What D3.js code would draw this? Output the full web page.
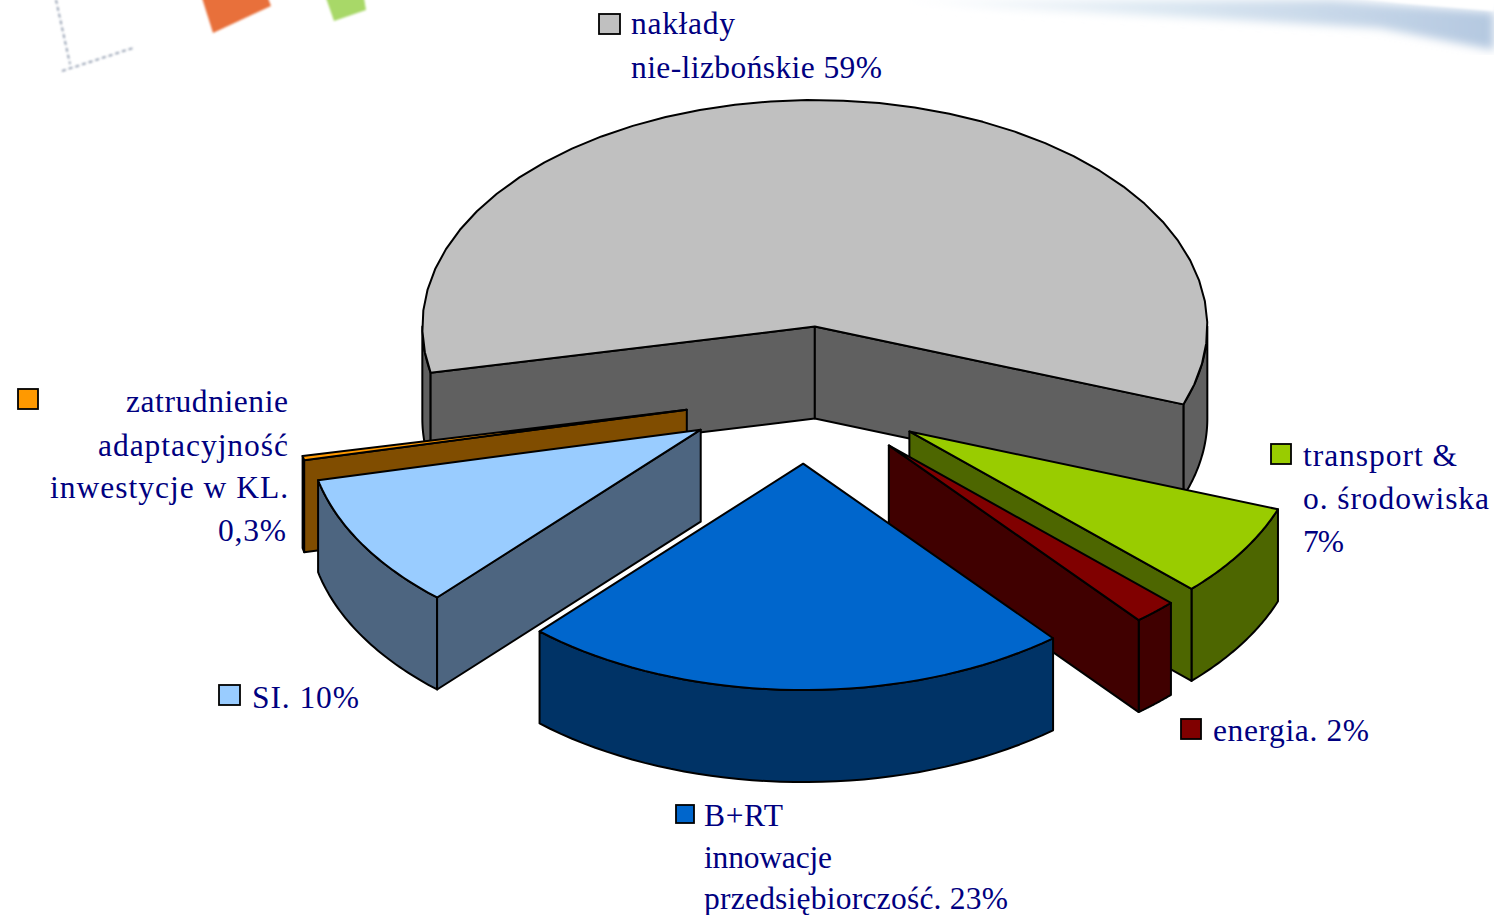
<!DOCTYPE html>
<html><head><meta charset="utf-8">
<script src="https://cdnjs.cloudflare.com/ajax/libs/d3/7.8.5/d3.min.js"></script>
<style>html,body{margin:0;padding:0;background:#fff;overflow:hidden}svg{display:block}
text{font-family:"Liberation Serif","Times New Roman",serif;fill:#000080;font-size:31.5px}</style>
</head><body>
<svg id="c" width="1494" height="915"></svg>
<script>
// Data (slice shares are the drawn angles; labels are as printed)
const categories = ["nakłady nie-lizbońskie","transport & o. środowiska","energia","B+RT innowacje przedsiębiorczość","SI","zatrudnienie adaptacyjność inwestycje w KL"];
const values = [58.85, 6.65, 1.78, 22.7, 9.7, 0.3];
const topColors = ["#c0c0c0","#99cc00","#800000","#0066cc","#99ccff","#ff9900"];
const wallColors = ["#606060","#4d6600","#400000","#003366","#4d6580","#804d00"];
const drawOrder = [0,5,4,1,2,3];
const labelLines = [
  ["nakłady","nie-lizbońskie 59%"],
  ["transport &","o. środowiska","7%"],
  ["energia. 2%"],
  ["B+RT","innowacje","przedsiębiorczość. 23%"],
  ["SI. 10%"],
  ["zatrudnienie","adaptacyjność","inwestycje w KL.","0,3%"]
];

const svg = d3.select("#c");
const defs = svg.append("defs");
defs.append("filter").attr("id","soft").append("feGaussianBlur").attr("stdDeviation",1);
defs.append("filter").attr("id","softer").append("feGaussianBlur").attr("stdDeviation",5);
const g1 = defs.append("linearGradient").attr("id","band").attr("x1",0).attr("x2",1).attr("y1",0).attr("y2",0);
g1.append("stop").attr("offset",0).attr("stop-color","#ffffff");
g1.append("stop").attr("offset",0.45).attr("stop-color","#dce8f2");
g1.append("stop").attr("offset",1).attr("stop-color","#b4c8e0");

// Background decoration of the slide
const bg = svg.append("g");
bg.append("path").attr("d","M880,0 L1330,0 L1494,12 L1494,50 L1380,28 L1200,18 L1000,8Z").attr("fill","url(#band)").attr("filter","url(#softer)");
bg.append("path").attr("d","M1320,-6 L1400,3 L1494,11 L1494,-6Z").attr("fill","#fff").attr("filter","url(#soft)");
bg.append("path").attr("d","M202,-2 L268,-2 L271,6 L213,33Z").attr("fill","#e8703a").attr("filter","url(#soft)");
bg.append("path").attr("d","M326,-2 L364,-2 L366,10 L334,21Z").attr("fill","#a8d868").attr("filter","url(#soft)");
bg.append("path").attr("d","M56,0 L70,64 M62,71 L133,48").attr("fill","none").attr("stroke","#7f8ca2").attr("stroke-width",1.6).attr("stroke-dasharray","4 3").attr("filter","url(#soft)");

// Pie geometry
const cx = 806, cy = 395, rx = 392.5, tilt = 0.577, depth = 92, explodeX = 122, explodeY = 119;
const deg = Math.PI/180;
const pie = d3.pie().sort(null).startAngle(-101.8*deg).endAngle(258.2*deg);
const arcs = pie(values);
const rScale = d3.scaleLinear().domain([0,1]).range([0,rx]);
const offset = a => ({x:cx+explodeX*Math.sin(a), y:cy-explodeY*Math.cos(a)*tilt});
const project = (o,a,f=1,z=0) => [o.x+rScale(f)*Math.sin(a), o.y-rScale(f)*Math.cos(a)*tilt+z];
const line = d3.line();
const arcPts = (o,a,b,z) => d3.range(0,41).map(i=>project(o,a+(b-a)*i/40,1,z));

const plot = svg.append("g").attr("stroke","#000").attr("stroke-width",2).attr("stroke-linejoin","round");
drawOrder.forEach(i=>{
  const d = arcs[i], a=d.startAngle, b=d.endAngle, mid=(a+b)/2, o=offset(mid);
  const g = plot.append("g").attr("class","slice");
  // outer wall: only the part that faces the viewer
  const segs = [];
  if (a < -Math.PI/2) segs.push([a, Math.min(b,-Math.PI/2)]);
  const f0=Math.max(a,Math.PI/2), f1=Math.min(b,1.5*Math.PI);
  if (f1>f0) segs.push([f0,f1]);
  segs.forEach(([s,e])=>{
    const top = arcPts(o,s,e,0), bot = arcPts(o,s,e,depth).reverse();
    g.append("path").attr("d",line(top.concat(bot))+"Z").attr("fill",wallColors[i]);
  });
  // radial walls facing the viewer
  [[a,Math.sin(a)<0],[b,Math.sin(b)>0]].forEach(([t,vis])=>{
    if(!vis) return;
    const p=project(o,t,0), q=project(o,t,1), p2=project(o,t,0,depth), q2=project(o,t,1,depth);
    g.append("path").attr("d",line([p,q,q2,p2])+"Z").attr("fill",wallColors[i]);
  });
  // top face
  g.append("path").attr("d",line([project(o,a,0)].concat(arcPts(o,a,b,0)))+"Z").attr("fill",topColors[i]);
});

// Labels with legend keys
const labelSpec = [
 {key:[599,14,21,20], x:[631,631], y:[34,78], w:[104,251], anchor:"start"},
 {key:[1271,444,20,20], x:[1303,1303,1303], y:[466,509,552], w:[154,186,41], anchor:"start"},
 {key:[1181,719,20,20], x:[1213], y:[741], w:[156], anchor:"start"},
 {key:[676,805,18,18], x:[704,704,704], y:[826,868,909], w:[79,128,304], anchor:"start"},
 {key:[219,685,21,20], x:[252], y:[708], w:[107], anchor:"start"},
 {key:[18,389,20,20], x:[288,288,288,286], y:[412,456,498,541], w:[162,190,238,68], anchor:"end"}
];
labelSpec.forEach((s,i)=>{
  const g = svg.append("g");
  g.append("rect").attr("x",s.key[0]).attr("y",s.key[1]).attr("width",s.key[2]).attr("height",s.key[3])
    .attr("fill",topColors[i]).attr("stroke","#000").attr("stroke-width",1.8);
  labelLines[i].forEach((t,j)=>{
    g.append("text").attr("x",s.x[j]).attr("y",s.y[j]).attr("text-anchor",s.anchor)
      .attr("textLength",s.w[j]).attr("lengthAdjust","spacing").text(t);
  });
});
</script>
</body></html>
